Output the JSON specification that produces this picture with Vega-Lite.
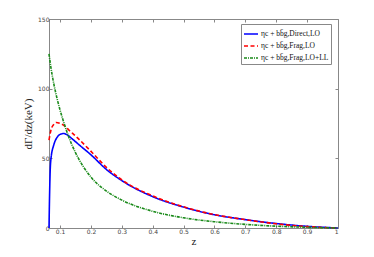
{
  "$schema": "https://vega.github.io/schema/vega-lite/v6.json",
  "autosize": "none",
  "width": 289,
  "height": 209,
  "padding": {"left": 49, "top": 19, "right": 36, "bottom": 29},
  "background": "white",
  "config": {
    "view": {"stroke": "#888888", "strokeWidth": 1},
    "axis": {"grid": false, "domain": false, "tickColor": "#888888", "labelColor": "#444444", "labelFont": "DejaVu Sans", "labelFontSize": 6, "titleFont": "Liberation Serif", "titleFontWeight": "normal", "titleColor": "#222222"}
  },
  "data": {"values": [
    {"z": 0.064, "v": 0, "s": "Direct"},
    {"z": 0.066, "v": 25, "s": "Direct"},
    {"z": 0.068, "v": 42, "s": "Direct"},
    {"z": 0.07, "v": 49, "s": "Direct"},
    {"z": 0.08, "v": 60, "s": "Direct"},
    {"z": 0.09, "v": 65, "s": "Direct"},
    {"z": 0.1, "v": 67.2, "s": "Direct"},
    {"z": 0.111, "v": 67.8, "s": "Direct"},
    {"z": 0.12, "v": 67.2, "s": "Direct"},
    {"z": 0.14, "v": 63.8, "s": "Direct"},
    {"z": 0.16, "v": 60, "s": "Direct"},
    {"z": 0.2, "v": 52.5, "s": "Direct"},
    {"z": 0.25, "v": 42, "s": "Direct"},
    {"z": 0.3, "v": 34, "s": "Direct"},
    {"z": 0.4, "v": 22.5, "s": "Direct"},
    {"z": 0.5, "v": 15, "s": "Direct"},
    {"z": 0.6, "v": 9.5, "s": "Direct"},
    {"z": 0.7, "v": 6, "s": "Direct"},
    {"z": 0.8, "v": 3.2, "s": "Direct"},
    {"z": 0.9, "v": 1.2, "s": "Direct"},
    {"z": 1.0, "v": 0, "s": "Direct"},
    {"z": 0.064, "v": 63, "s": "Frag"},
    {"z": 0.07, "v": 70, "s": "Frag"},
    {"z": 0.08, "v": 74.5, "s": "Frag"},
    {"z": 0.087, "v": 75.7, "s": "Frag"},
    {"z": 0.1, "v": 75, "s": "Frag"},
    {"z": 0.116, "v": 73, "s": "Frag"},
    {"z": 0.13, "v": 70, "s": "Frag"},
    {"z": 0.15, "v": 66, "s": "Frag"},
    {"z": 0.2, "v": 55, "s": "Frag"},
    {"z": 0.25, "v": 43.5, "s": "Frag"},
    {"z": 0.3, "v": 34.5, "s": "Frag"},
    {"z": 0.4, "v": 23, "s": "Frag"},
    {"z": 0.5, "v": 15.2, "s": "Frag"},
    {"z": 0.6, "v": 9.6, "s": "Frag"},
    {"z": 0.7, "v": 6, "s": "Frag"},
    {"z": 0.8, "v": 3, "s": "Frag"},
    {"z": 0.9, "v": 1, "s": "Frag"},
    {"z": 1.0, "v": 0, "s": "Frag"},
    {"z": 0.064, "v": 125, "s": "FragLL"},
    {"z": 0.07, "v": 115.5, "s": "FragLL"},
    {"z": 0.08, "v": 103, "s": "FragLL"},
    {"z": 0.09, "v": 93, "s": "FragLL"},
    {"z": 0.1, "v": 84.5, "s": "FragLL"},
    {"z": 0.116, "v": 73, "s": "FragLL"},
    {"z": 0.126, "v": 66.5, "s": "FragLL"},
    {"z": 0.15, "v": 54, "s": "FragLL"},
    {"z": 0.2, "v": 36.5, "s": "FragLL"},
    {"z": 0.25, "v": 26.5, "s": "FragLL"},
    {"z": 0.3, "v": 20, "s": "FragLL"},
    {"z": 0.4, "v": 12, "s": "FragLL"},
    {"z": 0.5, "v": 7.3, "s": "FragLL"},
    {"z": 0.6, "v": 4.5, "s": "FragLL"},
    {"z": 0.7, "v": 2.6, "s": "FragLL"},
    {"z": 0.8, "v": 1.3, "s": "FragLL"},
    {"z": 0.9, "v": 0.5, "s": "FragLL"},
    {"z": 1.0, "v": 0, "s": "FragLL"}
  ]},
  "resolve": {"axis": {"x": "independent", "y": "independent"}},
  "layer": [
    {
      "mark": {"type": "line", "interpolate": "monotone", "strokeWidth": 1.6},
      "encoding": {
        "x": {"field": "z", "type": "quantitative", "scale": {"domain": [0.064, 1], "nice": false, "zero": false},
          "axis": {"values": [0.1,0.2,0.3,0.4,0.5,0.6,0.7,0.8,0.9,1], "format": "~g", "tickSize": -3, "labelPadding": 3, "title": "z", "titleFontSize": 11, "titlePadding": 1}},
        "y": {"field": "v", "type": "quantitative", "scale": {"domain": [0, 150], "nice": false},
          "axis": {"values": [0, 50, 100, 150], "tickSize": -3, "labelPadding": 3, "title": "dΓ/dz(keV)", "titleFontSize": 11, "titlePadding": 4}},
        "color": {"field": "s", "type": "nominal", "title": null,
          "scale": {"domain": ["Direct", "Frag", "FragLL"], "range": ["#0000ff", "#ff0000", "#1a8a1a"]},
          "legend": {"orient": "none", "legendX": 192, "legendY": 5, "symbolType": "stroke", "symbolSize": 196, "symbolStrokeWidth": 1.6,
            "labelFont": "Liberation Serif", "labelFontSize": 7.5, "labelColor": "#111111", "fillColor": "white", "strokeColor": "#888888", "padding": 2, "rowPadding": 0, "symbolOffset": 0, "labelOffset": 2,
            "labelExpr": "datum.value == 'Direct' ? 'ηc + bb̄g,Direct,LO' : datum.value == 'Frag' ? 'ηc + bb̄g,Frag,LO' : 'ηc + bb̄g,Frag,LO+LL'"}},
        "strokeDash": {"field": "s", "type": "nominal", "title": null,
          "scale": {"domain": ["Direct", "Frag", "FragLL"], "range": [[1, 0], [4, 2.5], [3, 1, 1, 1]]},
          "legend": {"orient": "none", "legendX": 192, "legendY": 5, "symbolType": "stroke", "symbolSize": 196, "symbolStrokeWidth": 1.6,
            "labelFont": "Liberation Serif", "labelFontSize": 7.5, "labelColor": "#111111", "fillColor": "white", "strokeColor": "#888888", "padding": 2, "rowPadding": 0, "symbolOffset": 0, "labelOffset": 2,
            "labelExpr": "datum.value == 'Direct' ? 'ηc + bb̄g,Direct,LO' : datum.value == 'Frag' ? 'ηc + bb̄g,Frag,LO' : 'ηc + bb̄g,Frag,LO+LL'"}}
      }
    },
    {
      "mark": {"type": "line", "opacity": 0},
      "encoding": {
        "x": {"field": "z", "type": "quantitative", "axis": {"orient": "top", "values": [0.1,0.2,0.3,0.4,0.5,0.6,0.7,0.8,0.9,1], "tickSize": -3, "labels": false, "title": null}},
        "y": {"field": "v", "type": "quantitative", "axis": {"orient": "right", "values": [0, 50, 100, 150], "tickSize": -3, "labels": false, "title": null}}
      }
    }
  ]
}
